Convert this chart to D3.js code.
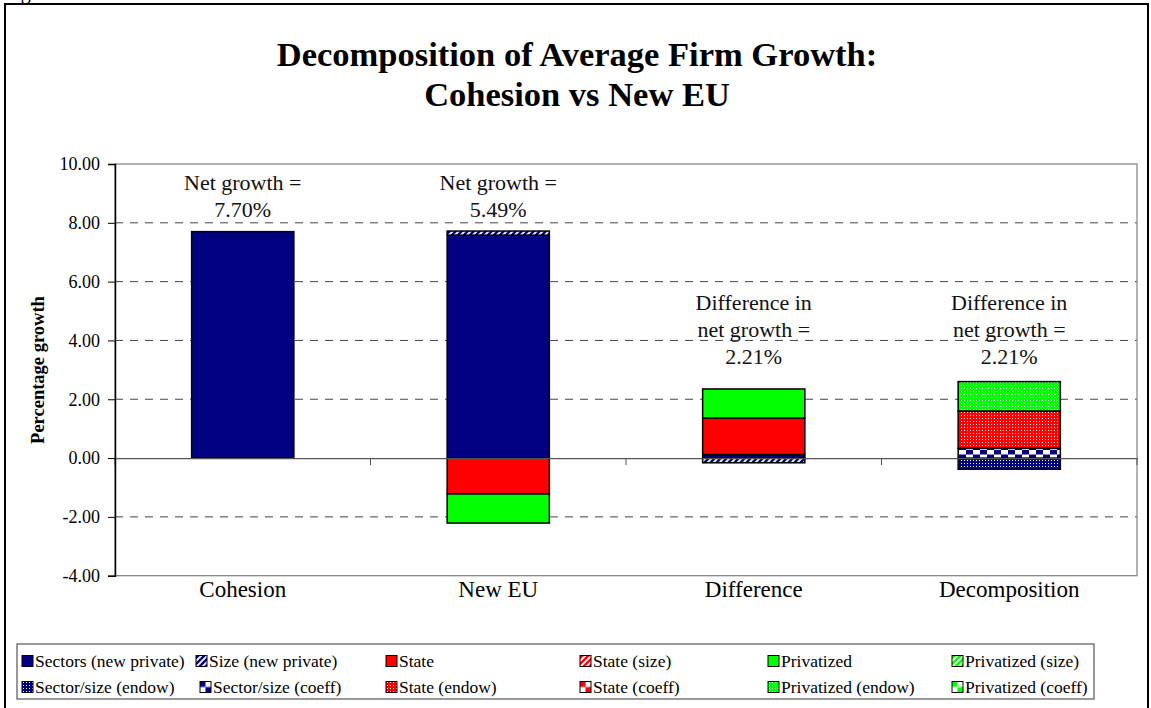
<!DOCTYPE html>
<html>
<head>
<meta charset="utf-8">
<script src="https://cdn.jsdelivr.net/npm/d3@7"></script>
<style>
    body { margin: 0; background: #fff; }
    svg { display: block; font-family: "Liberation Serif", "Times New Roman", serif; }
</style>
</head>
<body>
<script>
const CATEGORIES = ["Cohesion", "New EU", "Difference", "Decomposition"];

const SERIES_NAMES = [
    "Sectors (new private)", "Size (new private)", "State", "State (size)",
    "Privatized", "Privatized (size)", "Sector/size (endow)", "Sector/size (coeff)",
    "State (endow)", "State (coeff)", "Privatized (endow)", "Privatized (coeff)"
];

// one value per category, in CATEGORIES order
const SECTORS_NEW_PRIVATE = [7.70, 7.58, 0.12, 0];
const SIZE_NEW_PRIVATE    = [0, 0.14, -0.16, 0];
const STATE               = [0, -1.22, 1.24, 0];
const STATE_SIZE          = [0, 0, 0, 0];
const PRIVATIZED          = [0, -0.99, 0.99, 0];
const PRIVATIZED_SIZE     = [0, 0, 0, 0];
const SECTOR_SIZE_ENDOW   = [0, 0, 0, -0.38];
const SECTOR_SIZE_COEFF   = [0, 0, 0, 0.33];
const STATE_ENDOW         = [0, 0, 0, 1.27];
const STATE_COEFF         = [0, 0, 0, 0];
const PRIVATIZED_ENDOW    = [0, 0, 0, 1.00];
const PRIVATIZED_COEFF    = [0, 0, 0, 0];

const SERIES_VALUES = [
    SECTORS_NEW_PRIVATE, SIZE_NEW_PRIVATE, STATE, STATE_SIZE,
    PRIVATIZED, PRIVATIZED_SIZE, SECTOR_SIZE_ENDOW, SECTOR_SIZE_COEFF,
    STATE_ENDOW, STATE_COEFF, PRIVATIZED_ENDOW, PRIVATIZED_COEFF
];

const ANNOTATIONS = [
    ["Net growth =", "7.70%"],
    ["Net growth =", "5.49%"],
    ["Difference in", "net growth =", "2.21%"],
    ["Difference in", "net growth =", "2.21%"]
];

const Y_TICKS = [-4, -2, 0, 2, 4, 6, 8, 10];

const TITLE_LINES = ["Decomposition of Average Firm Growth:", "Cohesion vs New EU"];

const W = 1151, H = 708;
const NAVY = "#000080", RED = "#ff0000", LIME = "#00ff00";

// colour and fill kind of each series
const SERIES_STYLE = [
    [NAVY, "solid"], [NAVY, "stripes"], [RED, "solid"], [RED, "stripes"],
    [LIME, "solid"], [LIME, "stripes"], [NAVY, "dots"], [NAVY, "checker"],
    [RED, "dots"], [RED, "checker"], [LIME, "dots"], [LIME, "checker"]
];

const svg = d3.select("body").append("svg")
    .attr("width", W)
    .attr("height", H);

const defs = svg.append("defs");

function makePattern(id, color, kind, legend) {
    if (kind == "solid") return color;
    let pid = id + (legend ? "-lg" : "");
    let p = defs.append("pattern").attr("id", pid);
    if (kind == "stripes") {
        p.attr("patternUnits", "userSpaceOnUse").attr("width", 6).attr("height", 6);
        p.append("rect").attr("width", 6).attr("height", 6).attr("fill", color);
        p.append("path")
            .attr("d", "M-1.5,1.5 L1.5,-1.5 M0,6 L6,0 M4.5,7.5 L7.5,4.5")
            .attr("stroke", "#fff").attr("stroke-width", 1.8);
    } else if (kind == "dots") {
        p.attr("patternUnits", "userSpaceOnUse").attr("width", 3).attr("height", 3);
        p.append("rect").attr("width", 3).attr("height", 3).attr("fill", color);
        p.append("rect").attr("x", 1).attr("y", 1).attr("width", 1).attr("height", 1).attr("fill", "#fff");
    } else if (legend) {
        p.attr("patternUnits", "objectBoundingBox").attr("patternContentUnits", "objectBoundingBox")
            .attr("width", 1).attr("height", 1);
        p.append("rect").attr("width", 1).attr("height", 1).attr("fill", "#fff");
        p.append("rect").attr("width", 0.5).attr("height", 0.5).attr("fill", color);
        p.append("rect").attr("x", 0.5).attr("y", 0.5).attr("width", 0.5).attr("height", 0.5).attr("fill", color);
    } else {
        p.attr("patternUnits", "userSpaceOnUse").attr("width", 14).attr("height", 9);
        p.append("rect").attr("width", 14).attr("height", 9).attr("fill", "#fff");
        p.append("rect").attr("width", 7).attr("height", 4.5).attr("fill", color);
        p.append("rect").attr("x", 7).attr("y", 4.5).attr("width", 7).attr("height", 4.5).attr("fill", color);
    }
    return "url(#" + pid + ")";
}

const barFills = SERIES_STYLE.map((s, i) => makePattern("pat" + i, s[0], s[1], false));
const legendFills = SERIES_STYLE.map((s, i) => makePattern("pat" + i, s[0], s[1], true));

// outer frame, cut off at the bottom like the scanned page
svg.append("rect")
    .attr("x", 5).attr("y", 4)
    .attr("width", 1143).attr("height", 740)
    .attr("fill", "none").attr("stroke", "#000").attr("stroke-width", 2);

svg.append("text")
    .attr("x", 4).attr("y", -1.5)
    .attr("font-size", 20)
    .text("Figure");

// title
svg.append("g").selectAll("text")
    .data(TITLE_LINES)
    .enter().append("text")
    .attr("x", 577)
    .attr("y", (d, i) => 66 + i * 40)
    .attr("text-anchor", "middle")
    .attr("font-size", 34.5)
    .attr("font-weight", "bold")
    .text(d => d);

const plot = { left: 115, right: 1137, top: 164, bottom: 575.7 };

const x = d3.scaleBand()
    .domain(CATEGORIES)
    .range([plot.left, plot.right])
    .paddingInner(0.6)
    .paddingOuter(0.3);

const y = d3.scaleLinear()
    .domain([-4, 10])
    .range([plot.bottom, plot.top]);

// dashed gridlines
svg.append("g").selectAll("line")
    .data(Y_TICKS.filter(t => t != 0 && t != 10 && t != -4))
    .enter().append("line")
    .attr("x1", plot.left).attr("x2", plot.right)
    .attr("y1", d => y(d)).attr("y2", d => y(d))
    .attr("stroke", "#444")
    .attr("stroke-dasharray", "8,7");

svg.append("rect")
    .attr("x", plot.left).attr("y", plot.top)
    .attr("width", plot.right - plot.left).attr("height", plot.bottom - plot.top)
    .attr("fill", "none").attr("stroke", "#808080").attr("stroke-width", 1.2);

// stacked bars
const table = CATEGORIES.map((c, j) => {
    let row = { category: c };
    SERIES_NAMES.forEach((s, i) => { row[s] = SERIES_VALUES[i][j]; });
    return row;
});

const stacked = d3.stack()
    .keys(SERIES_NAMES)
    .offset(d3.stackOffsetDiverging)(table);

const barGroups = svg.append("g").selectAll("g")
    .data(stacked)
    .enter().append("g")
    .attr("fill", (d, i) => barFills[i]);

barGroups.selectAll("rect")
    .data(d => d.filter(seg => seg[1] - seg[0] != 0))
    .enter().append("rect")
    .attr("x", d => x(d.data.category))
    .attr("width", x.bandwidth())
    .attr("y", d => y(d[1]))
    .attr("height", d => y(d[0]) - y(d[1]))
    .attr("stroke", "#000")
    .attr("stroke-width", 1.5);

// zero axis with category ticks
const zeroAxis = svg.append("g")
    .attr("transform", "translate(0," + y(0) + ")")
    .call(d3.axisBottom(x).tickSize(0).tickFormat(""));
zeroAxis.select(".domain").attr("stroke", "#555").attr("stroke-width", 1.2);
zeroAxis.selectAll(".tick").remove();
zeroAxis.selectAll("line.sep")
    .data(CATEGORIES.map(c => x(c) - x.step() * x.paddingOuter()).concat([plot.right]))
    .enter().append("line")
    .attr("class", "sep")
    .attr("x1", d => d).attr("x2", d => d)
    .attr("y1", 0).attr("y2", 7)
    .attr("stroke", "#555");

// y axis, plain hyphen for negatives like the original
const fmt = d3.format(".2f");
const yAxis = svg.append("g")
    .attr("transform", "translate(" + plot.left + ",0)")
    .call(d3.axisLeft(y).tickValues(Y_TICKS)
        .tickFormat(d => fmt(d).replace("\u2212", "-"))
        .tickSize(7).tickPadding(8));
yAxis.select(".domain").attr("stroke", "#000").attr("stroke-width", 1.5);
yAxis.selectAll(".tick line").attr("stroke", "#000");
yAxis.selectAll("text")
    .attr("font-family", "Liberation Serif, Times New Roman, serif")
    .attr("font-size", 18)
    .attr("fill", "#000");

svg.append("text")
    .attr("transform", "translate(44," + 370 + ") rotate(-90)")
    .attr("text-anchor", "middle")
    .attr("font-size", 18.5)
    .attr("font-weight", "bold")
    .text("Percentage growth");

// category labels
svg.append("g").selectAll("text")
    .data(CATEGORIES)
    .enter().append("text")
    .attr("x", d => x(d) + x.bandwidth() / 2)
    .attr("y", 597)
    .attr("text-anchor", "middle")
    .attr("font-size", 23)
    .text(d => d);

// net growth notes above the bars
const noteTop = [190, 190, 310, 310];
svg.append("g").selectAll("text")
    .data(ANNOTATIONS)
    .enter().append("text")
    .attr("text-anchor", "middle")
    .attr("font-size", 22)
    .attr("fill", "#111")
    .each(function (d, j) {
        d3.select(this).selectAll("tspan")
            .data(d)
            .enter().append("tspan")
            .attr("x", x(CATEGORIES[j]) + x.bandwidth() / 2)
            .attr("y", (line, k) => noteTop[j] + k * 27)
            .text(line => line);
    });

// legend
const legendBox = { left: 17, top: 644, right: 1094, bottom: 699 };
const legendCols = [22, 196, 386, 580, 768, 952];
svg.append("rect")
    .attr("x", legendBox.left).attr("y", legendBox.top)
    .attr("width", legendBox.right - legendBox.left)
    .attr("height", legendBox.bottom - legendBox.top)
    .attr("fill", "#fff").attr("stroke", "#555").attr("stroke-width", 1.2);

const legendItems = svg.append("g").selectAll("g")
    .data(SERIES_NAMES)
    .enter().append("g")
    .attr("transform", (d, i) => "translate(" + (legendCols[i % 6] + (i == 7 ? 4 : 0)) + "," + (661 + Math.floor(i / 6) * 26) + ")");

legendItems.append("rect")
    .attr("x", 0).attr("y", -5.5)
    .attr("width", 11).attr("height", 11)
    .attr("fill", (d, i) => legendFills[i])
    .attr("stroke", "#000").attr("stroke-width", 1);

legendItems.append("text")
    .attr("x", 13).attr("y", 6)
    .attr("font-size", 17.5)
    .text(d => d);
</script>
</body>
</html>
